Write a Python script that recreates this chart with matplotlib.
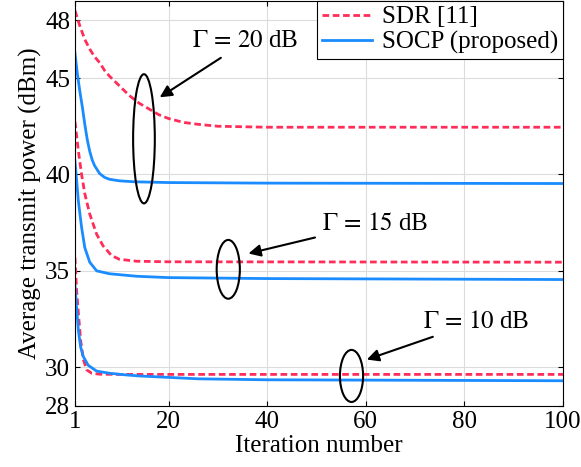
import numpy as np
import matplotlib.pyplot as plt
from matplotlib.patches import Ellipse

plt.rcParams['font.family'] = ['Liberation Serif', 'DejaVu Serif']
plt.rcParams['mathtext.fontset'] = 'stix'
plt.rcParams['font.size'] = 18

# values
x_sdr20 = [1, 2, 3, 4, 5, 6, 7, 8, 10, 12, 14, 16, 18, 20, 23, 26, 30, 40, 100]
sdr20 = [48.5, 47.7, 47.0, 46.5, 46.1, 45.8, 45.4, 45.1, 44.6, 44.1, 43.7, 43.4,
         43.1, 42.9, 42.7, 42.6, 42.5, 42.45, 42.45]

x_socp20 = [1, 1.5, 2, 2.5, 3, 3.5, 4, 4.5, 5, 6, 7, 8, 10, 13, 20, 40, 100]
socp20 = [46.3, 45.2, 44.3, 43.5, 42.6, 41.8, 41.2, 40.75, 40.45, 40.05, 39.85,
          39.75, 39.67, 39.62, 39.58, 39.55, 39.53]

x_sdr15 = [1, 1.7, 2.35, 3, 4, 5.4, 6.7, 8.4, 10, 13.5, 20, 100]
sdr15 = [42.75, 41.2, 40.0, 39.0, 37.95, 36.9, 36.3, 35.8, 35.6, 35.5, 35.47, 35.45]

x_socp15 = [1, 1.7, 2.35, 3, 4, 5.4, 8, 13.5, 20, 40, 100]
socp15 = [40.7, 38.6, 37.25, 36.2, 35.45, 35.0, 34.85, 34.72, 34.65, 34.6, 34.55]

x_sdr10 = [1, 1.33, 1.7, 2.15, 2.7, 3.4, 4.4, 6, 10, 100]
sdr10 = [35.7, 34.0, 32.8, 31.4, 30.4, 29.86, 29.69, 29.64, 29.63, 29.63]

x_socp10 = [1, 1.33, 1.7, 2.15, 2.7, 3.7, 5.4, 8, 11.5, 14, 26, 40, 100]
socp10 = [34.25, 33.1, 31.9, 31.05, 30.55, 30.1, 29.8, 29.69, 29.6, 29.55, 29.4,
          29.35, 29.3]

x_ticks = [1, 20, 40, 60, 80, 100]
y_ticks = [28, 30, 35, 40, 45, 48]

# annotation: ellipse centre/size, arrow tip/tail, label position
gamma_labels = [r'$\Gamma\,=\,20$ dB', r'$\Gamma\,=\,15$ dB', r'$\Gamma\,=\,10$ dB']
ell_xy = [(15.0, 41.85), (32.1, 35.08), (57.1, 29.55)]
ell_w = [4.4, 4.7, 4.7]
ell_h = [6.7, 3.05, 2.7]
arrow_tip = [(18.2, 44.0), (36.2, 35.9), (60.2, 30.4)]
arrow_tail = [(30.6, 46.05), (49.7, 36.73), (73.6, 31.58)]
label_xy = [(35.6, 46.9), (61.9, 37.42), (82.4, 32.36)]

red = '#ff2d5a'
blue = '#1a8cff'

fig = plt.figure(figsize=(5.81, 4.67), dpi=100)
ax = fig.add_axes([0.129, 0.131, 0.840, 0.867])

ax.plot(x_sdr20, sdr20, color=red, lw=2.0, dashes=(2.4, 1.3), label='SDR [11]')
ax.plot(x_socp20, socp20, color=blue, lw=2.0, label='SOCP (proposed)')
ax.plot(x_sdr15, sdr15, color=red, lw=2.0, dashes=(2.4, 1.3))
ax.plot(x_socp15, socp15, color=blue, lw=2.0)
ax.plot(x_sdr10, sdr10, color=red, lw=2.0, dashes=(2.4, 1.3))
ax.plot(x_socp10, socp10, color=blue, lw=2.0)

for i in range(3):
    ax.add_patch(Ellipse(ell_xy[i], ell_w[i], ell_h[i], fill=False, color='k', lw=1.5, zorder=4))
    ax.annotate('', xy=arrow_tip[i], xytext=arrow_tail[i],
                arrowprops=dict(arrowstyle='-|>', color='k', lw=1.5,
                                mutation_scale=18, shrinkA=0, shrinkB=0))
    ax.text(label_xy[i][0], label_xy[i][1], gamma_labels[i], ha='center', va='center')

ax.set_xlim(1, 100)
ax.set_ylim(28, 49)
ax.set_xticks(x_ticks)
ax.set_yticks(y_ticks)
ax.grid(True, color='#dcdcdc', lw=0.8)
ax.set_axisbelow(True)
ax.tick_params(direction='in', top=True, right=True, length=3.5, width=0.8)
ax.set_xlabel('Iteration number', labelpad=2)
ax.set_ylabel('Average transmit power (dBm)', labelpad=2)

leg = ax.legend(loc='upper right', borderaxespad=0, fancybox=False, edgecolor='k',
                framealpha=1, handlelength=2.0, handletextpad=0.4, borderpad=0.2,
                labelspacing=0.1)
leg.get_frame().set_linewidth(0.8)

fig.savefig('out.png', dpi=100)
